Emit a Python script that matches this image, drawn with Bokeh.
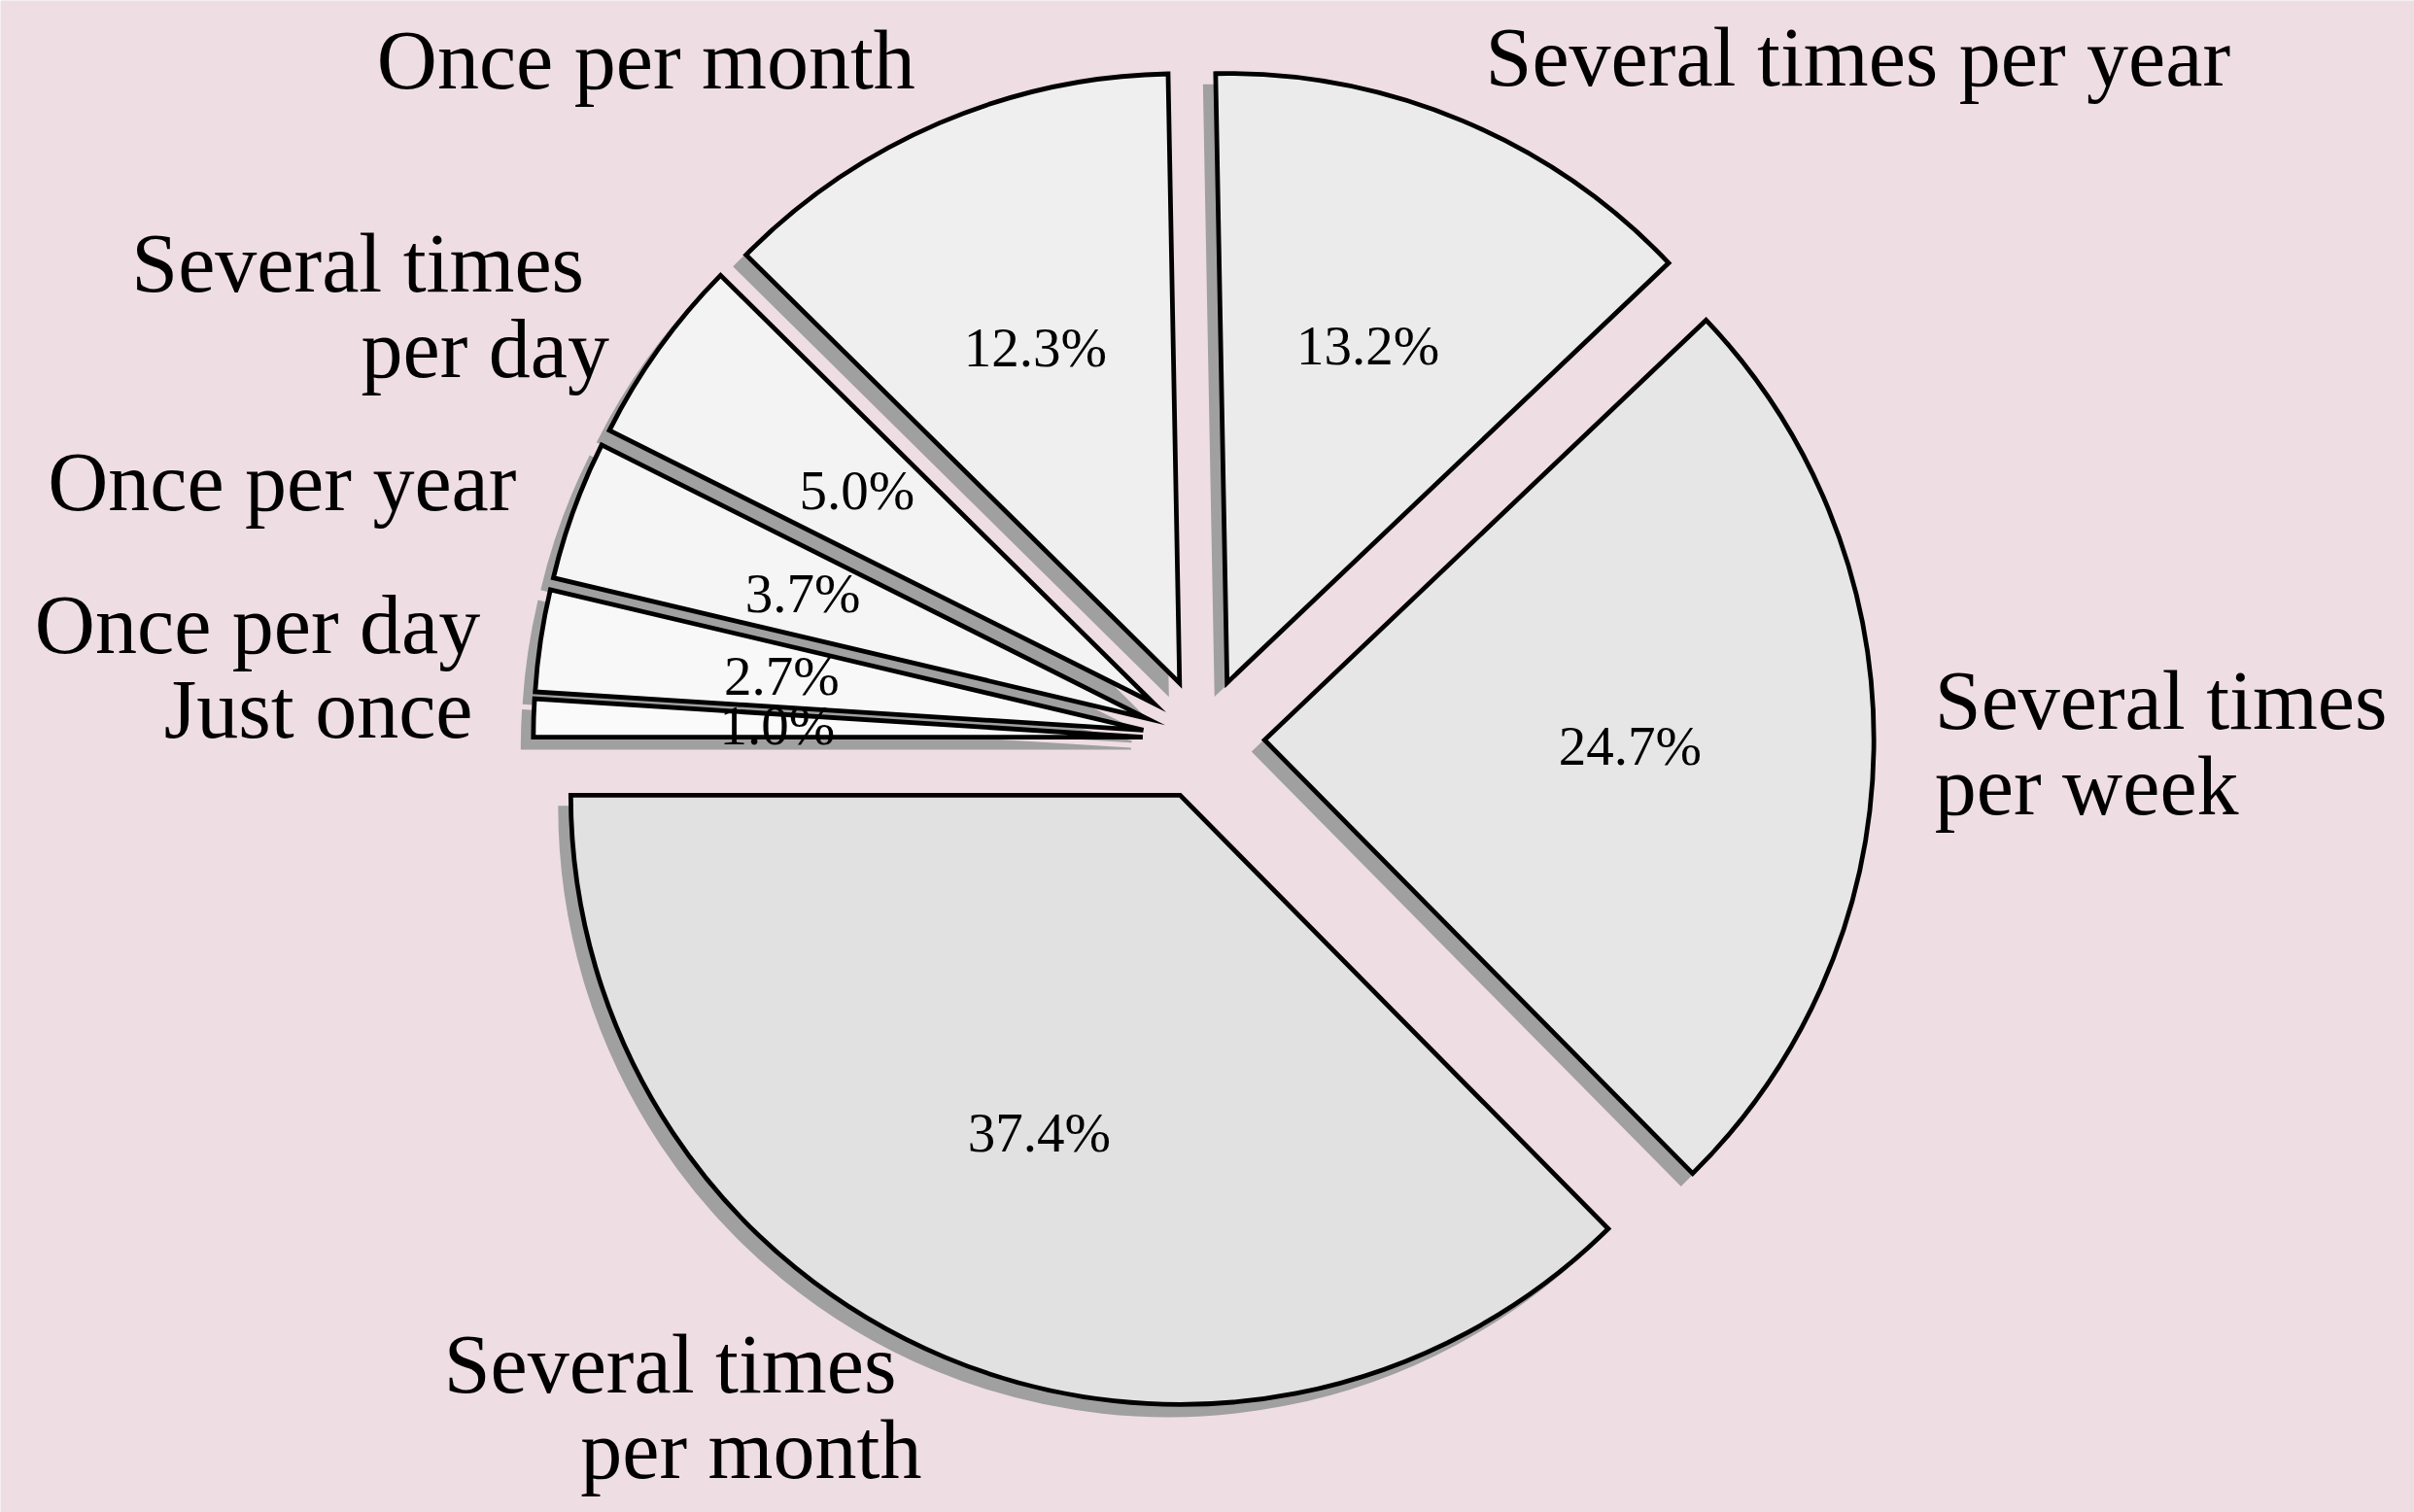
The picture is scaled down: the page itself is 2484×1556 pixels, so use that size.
import numpy as np
from bokeh.plotting import figure
from bokeh.models import ColumnDataSource, Range1d
from bokeh.embed import file_html
from bokeh.resources import INLINE
from bokeh.core.properties import value

# Survey answers, listed counter-clockwise starting from the 9 o'clock position
categories = [
    "Several times per month",
    "Several times per week",
    "Several times per year",
    "Once per month",
    "Several times per day",
    "Once per year",
    "Once per day",
    "Just once",
]
label_lines = [
    ["Several times", "per month"],
    ["Several times", "per week"],
    ["Several times per year"],
    ["Once per month"],
    ["Several times", "per day"],
    ["Once per year"],
    ["Once per day"],
    ["Just once"],
]
shares = [37.4, 24.7, 13.2, 12.3, 5.0, 3.7, 2.7, 1.0]
explode = [0.1, 0.1, 0.1, 0.1, 0.1, 0.1, 0.1, 0.1]

# styling
fills = ["#e1e1e1", "#e6e6e6", "#ebebeb", "#efefef", "#f3f3f3", "#f5f5f5", "#f8f8f8", "#fafafa"]
BG = "#efdde4"
SHADOW = "#a0a0a0"
FONT = "Liberation Serif"

W, H = 2484, 1556
CX, CY = 1238.0, H - 760.0
R = 627.0
START = np.pi
LABEL_DIST = 1.1
PCT_DIST = 0.6
SHADOW_OFF = 12.0
LINE_GAP = 44.0
TRAIL = 26.0
LABEL_RAISE = 7.0

vals = np.array(shares, dtype=float)
frac = vals / vals.sum()
ends = START + 2 * np.pi * np.cumsum(frac)
starts = ends - 2 * np.pi * frac
mids = (starts + ends) / 2
ex = np.array(explode)

wx = CX + ex * R * np.cos(mids)
wy = CY + ex * R * np.sin(mids)

p = figure(width=W, height=H, x_range=Range1d(0, W), y_range=Range1d(0, H),
           output_backend="svg", toolbar_location=None, min_border=0,
           x_axis_location=None, y_axis_location=None)
p.grid.visible = False
p.outline_line_color = None
p.background_fill_color = BG
p.border_fill_color = BG

shadow_src = ColumnDataSource(dict(x=wx - SHADOW_OFF, y=wy - SHADOW_OFF,
                                   s=starts, e=ends))
p.wedge(x="x", y="y", radius=R, start_angle="s", end_angle="e", source=shadow_src,
        fill_color=SHADOW, line_color=SHADOW, line_width=2, line_join="miter")

wedge_src = ColumnDataSource(dict(x=wx, y=wy, s=starts, e=ends, c=fills, name=categories))
p.wedge(x="x", y="y", radius=R, start_angle="s", end_angle="e", source=wedge_src,
        fill_color="c", line_color="black", line_width=4.8, line_join="miter")

# percentage labels inside the wedges
pct_src = ColumnDataSource(dict(
    x=wx + PCT_DIST * R * np.cos(mids),
    y=wy + PCT_DIST * R * np.sin(mids),
    t=[f"{v:.1f}%" for v in shares],
))
p.text(x="x", y="y", text="t", source=pct_src, text_font=value(FONT),
       text_font_size="57px", text_align="center", text_baseline="middle",
       text_color="black")

# category labels outside the wedges
lx, ly, lt, la = [], [], [], []
for i, lines in enumerate(label_lines):
    ax = wx[i] + LABEL_DIST * R * np.cos(mids[i])
    ay = wy[i] + LABEL_DIST * R * np.sin(mids[i]) + LABEL_RAISE
    align = "left" if ax > CX else "right"
    n = len(lines)
    for k, line in enumerate(lines):
        off_y = (LINE_GAP if k == 0 else -LINE_GAP) if n > 1 else 0.0
        off_x = -TRAIL if (align == "right" and n > 1 and k < n - 1) else 0.0
        lx.append(ax + off_x)
        ly.append(ay + off_y)
        lt.append(line)
        la.append(align)

lab_src = ColumnDataSource(dict(x=lx, y=ly, t=lt, a=la))
p.text(x="x", y="y", text="t", source=lab_src, text_font=value(FONT),
       text_font_size="86px", text_align="a", text_baseline="middle",
       text_color="black")

open("out.html", "w").write(file_html(p, INLINE))
